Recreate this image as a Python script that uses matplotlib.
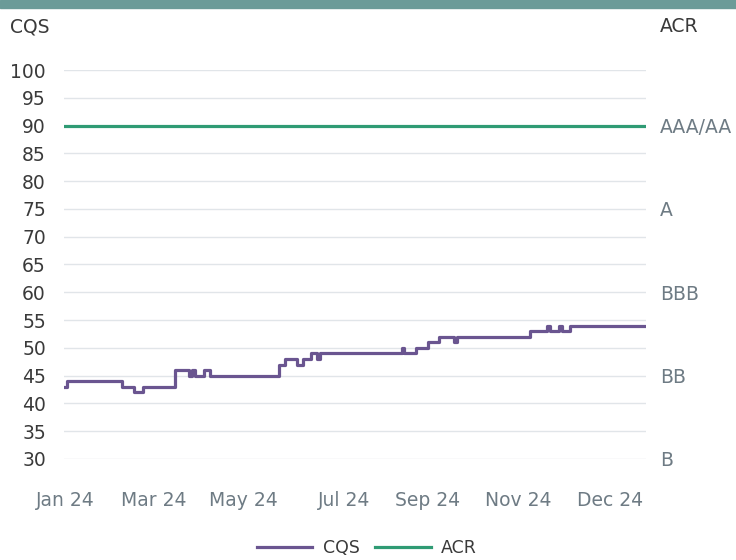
import matplotlib
matplotlib.use("Agg")
import matplotlib.pyplot as plt
from matplotlib.patches import Rectangle

# ---- data ----
# observation index (0..200) where the CQS score changes, and the new value
cqs_idx = [0, 1, 20, 24, 27, 38, 43, 44, 45, 48, 50, 74, 76, 80, 82, 85, 87, 88,
           116, 117, 121, 125, 129, 134, 135, 160, 166, 167, 170, 171, 174, 200]
cqs_val = [43, 44, 43, 42, 43, 46, 45, 46, 45, 46, 45, 47, 48, 47, 48, 49, 48, 49,
           50, 49, 50, 51, 52, 51, 52, 53, 54, 53, 54, 53, 54, 54]
acr_idx = [0, 200]
acr_val = [90, 90]
x_tick_pos = [0.5, 31.0, 61.8, 96.4, 125.1, 156.1, 187.6]
x_tick_labels = ["Jan 24", "Mar 24", "May 24", "Jul 24", "Sep 24", "Nov 24", "Dec 24"]
y_ticks = [30, 35, 40, 45, 50, 55, 60, 65, 70, 75, 80, 85, 90, 95, 100]
rating_pos = [90, 75, 60, 45, 30]
rating_labels = ["AAA/AA", "A", "BBB", "BB", "B"]

PURPLE = "#6a5590"
GREEN = "#2f9b74"
GRID = "#e1e5e9"
DARK = "#3a3a3a"
GREY = "#6e7b84"
FSZ = 13.5

plt.rcParams['font.family'] = ['DejaVu Sans']

fig = plt.figure(figsize=(7.36, 5.6), dpi=100)
fig.patches.append(Rectangle((0, 1 - 8 / 560), 1, 8 / 560, transform=fig.transFigure,
                             color="#6b9b98", zorder=0))
ax = fig.add_axes([64 / 736, 1 - 459 / 560, (646 - 64) / 736, (459 - 70) / 560])

ax.step(cqs_idx, cqs_val, where='post', color=PURPLE, lw=2.3, label="CQS", zorder=3)
ax.plot(acr_idx, acr_val, color=GREEN, lw=2.3, label="ACR", zorder=3)

ax.set_xlim(0, 200)
ax.set_ylim(30, 100)
ax.set_yticks(y_ticks)
ax.set_yticklabels([str(v) for v in y_ticks], color=DARK, fontsize=FSZ)
ax.set_xticks(x_tick_pos)
ax.set_xticklabels(x_tick_labels, color=GREY, fontsize=FSZ)
ax.tick_params(axis='y', length=0, pad=13)
ax.tick_params(axis='x', length=0, pad=23)
ax.grid(axis='y', color=GRID, lw=1)
ax.set_axisbelow(True)
for s in ax.spines.values():
    s.set_visible(False)

ax2 = ax.twinx()
ax2.set_ylim(30, 100)
ax2.set_yticks(rating_pos)
ax2.set_yticklabels(rating_labels, color=GREY, fontsize=FSZ)
ax2.tick_params(axis='y', length=0, pad=10)
for s in ax2.spines.values():
    s.set_visible(False)

fig.text(10 / 736, 1 - 27 / 560, "CQS", color=DARK, fontsize=FSZ, va='center', ha='left')
fig.text(660 / 736, 1 - 27 / 560, "ACR", color=DARK, fontsize=FSZ, va='center', ha='left')

leg = ax.legend(loc='center', bbox_to_anchor=(367 / 736, 1 - 548 / 560),
                bbox_transform=fig.transFigure, ncol=2, frameon=False,
                handlelength=3.2, columnspacing=0.9, handletextpad=0.6,
                prop=dict(size=12.5))
for t in leg.get_texts():
    t.set_color(DARK)

fig.savefig("out.png", dpi=100)
